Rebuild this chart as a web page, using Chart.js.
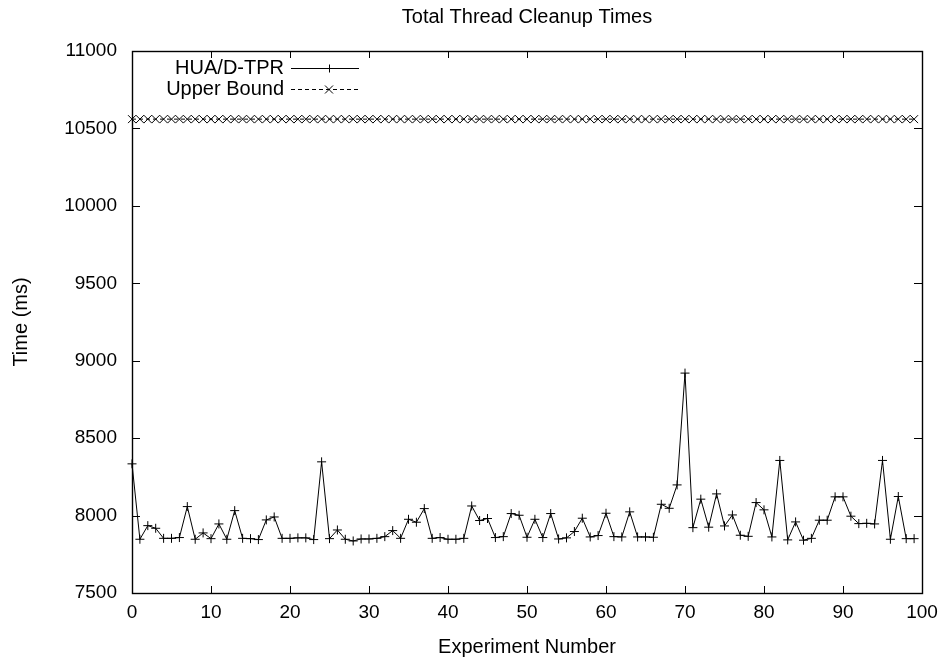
<!DOCTYPE html>
<html>
<head>
<meta charset="utf-8">
<script src="https://cdn.jsdelivr.net/npm/chart.js@4/dist/chart.umd.min.js"></script>
<style>
  html, body { margin: 0; padding: 0; background: #fff; }
  #wrap { width: 948px; height: 664px; }
</style>
</head>
<body>
<div id="wrap"><canvas id="chart" width="948" height="664"></canvas></div>
<script>
// Experiment numbers along the x axis
const experiments = [
  0, 1, 2, 3, 4, 5, 6, 7, 8, 9,
  10, 11, 12, 13, 14, 15, 16, 17, 18, 19,
  20, 21, 22, 23, 24, 25, 26, 27, 28, 29,
  30, 31, 32, 33, 34, 35, 36, 37, 38, 39,
  40, 41, 42, 43, 44, 45, 46, 47, 48, 49,
  50, 51, 52, 53, 54, 55, 56, 57, 58, 59,
  60, 61, 62, 63, 64, 65, 66, 67, 68, 69,
  70, 71, 72, 73, 74, 75, 76, 77, 78, 79,
  80, 81, 82, 83, 84, 85, 86, 87, 88, 89,
  90, 91, 92, 93, 94, 95, 96, 97, 98, 99
];

// Total cleanup time per experiment (ms)
const huaTimes = [
  8334, 7847, 7935, 7918, 7853, 7853, 7858, 8058, 7847, 7888,
  7851, 7946, 7847, 8032, 7853, 7851, 7845, 7972, 7991, 7853,
  7853, 7856, 7856, 7845, 8347, 7851, 7907, 7847, 7836, 7849,
  7849, 7853, 7864, 7903, 7853, 7976, 7957, 8045, 7853, 7858,
  7847, 7847, 7853, 8062, 7968, 7981, 7858, 7864, 8013, 8002,
  7860, 7976, 7858, 8013, 7849, 7856, 7897, 7983, 7862, 7871,
  8015, 7864, 7862, 8024, 7862, 7862, 7860, 8073, 8047, 8198,
  8920, 7922, 8106, 7925, 8140, 7933, 8004, 7873, 7866, 8084,
  8037, 7862, 8356, 7843, 7959, 7841, 7853, 7970, 7970, 8121,
  8121, 7996, 7948, 7950, 7946, 8356, 7847, 8123, 7851, 7851
];

// Analytical upper bound on the cleanup time (ms)
const upperBound = [
  10560, 10560, 10560, 10560, 10560, 10560, 10560, 10560, 10560, 10560,
  10560, 10560, 10560, 10560, 10560, 10560, 10560, 10560, 10560, 10560,
  10560, 10560, 10560, 10560, 10560, 10560, 10560, 10560, 10560, 10560,
  10560, 10560, 10560, 10560, 10560, 10560, 10560, 10560, 10560, 10560,
  10560, 10560, 10560, 10560, 10560, 10560, 10560, 10560, 10560, 10560,
  10560, 10560, 10560, 10560, 10560, 10560, 10560, 10560, 10560, 10560,
  10560, 10560, 10560, 10560, 10560, 10560, 10560, 10560, 10560, 10560,
  10560, 10560, 10560, 10560, 10560, 10560, 10560, 10560, 10560, 10560,
  10560, 10560, 10560, 10560, 10560, 10560, 10560, 10560, 10560, 10560,
  10560, 10560, 10560, 10560, 10560, 10560, 10560, 10560, 10560, 10560
];

const xTicks = [0, 10, 20, 30, 40, 50, 60, 70, 80, 90, 100];
const yTicks = [7500, 8000, 8500, 9000, 9500, 10000, 10500, 11000];
const seriesNames = ['HUA/D-TPR', 'Upper Bound'];
const chartTitle = 'Total Thread Cleanup Times';

const FONT = '"Liberation Sans", Arial, Helvetica, sans-serif';

// Frame with inward tick marks on all four sides
const framePlugin = {
  id: 'frame',
  afterDatasetsDraw(chart) {
    const { ctx, chartArea: a, scales } = chart;
    ctx.save();
    ctx.strokeStyle = '#000';
    ctx.lineWidth = 1;
    ctx.beginPath();
    xTicks.forEach(v => {
      const px = Math.round(scales.x.getPixelForValue(v)) + 0.5;
      ctx.moveTo(px, a.bottom); ctx.lineTo(px, a.bottom - 7);
      ctx.moveTo(px, a.top); ctx.lineTo(px, a.top + 7);
    });
    yTicks.forEach(v => {
      const py = Math.round(scales.y.getPixelForValue(v)) + 0.5;
      ctx.moveTo(a.left, py); ctx.lineTo(a.left + 8, py);
      ctx.moveTo(a.right, py); ctx.lineTo(a.right - 8, py);
    });
    ctx.stroke();
    ctx.lineWidth = 1.4;
    ctx.strokeRect(Math.round(a.left) + 0.5, Math.round(a.top) + 0.5,
                   Math.round(a.right - a.left), Math.round(a.bottom - a.top));
    ctx.restore();
  }
};

// Key in the top-left corner: right-aligned names followed by a line sample
const keyPlugin = {
  id: 'key',
  afterDraw(chart) {
    const ctx = chart.ctx;
    const textRight = 284, lineL = 291, lineR = 359, markX = 329;
    const rows = [68, 89];
    ctx.save();
    ctx.font = '20px ' + FONT;
    ctx.fillStyle = '#000';
    ctx.textAlign = 'right';
    ctx.textBaseline = 'middle';
    ctx.strokeStyle = '#000';
    ctx.lineWidth = 1;
    rows.forEach((y, i) => {
      ctx.fillText(seriesNames[i], textRight, y);
      const yy = Math.round(y) + 0.5;
      ctx.setLineDash(i === 0 ? [] : [4, 3]);
      ctx.beginPath();
      ctx.moveTo(lineL, yy); ctx.lineTo(lineR, yy);
      ctx.stroke();
      ctx.setLineDash([]);
      ctx.beginPath();
      if (i === 0) {
        ctx.moveTo(markX - 4, yy); ctx.lineTo(markX + 4, yy);
        ctx.moveTo(markX + 0.5, yy - 4); ctx.lineTo(markX + 0.5, yy + 4);
      } else {
        ctx.moveTo(markX - 4, yy - 4); ctx.lineTo(markX + 4, yy + 4);
        ctx.moveTo(markX - 4, yy + 4); ctx.lineTo(markX + 4, yy - 4);
      }
      ctx.stroke();
    });
    ctx.restore();
  }
};

// Chart title and vertical axis caption, both centred on the plot
const captionPlugin = {
  id: 'captions',
  afterDraw(chart) {
    const { ctx, chartArea: a } = chart;
    ctx.save();
    ctx.font = '20px ' + FONT;
    ctx.fillStyle = '#000';
    ctx.textAlign = 'center';
    ctx.textBaseline = 'middle';
    ctx.fillText(chartTitle, (a.left + a.right) / 2, 17);
    ctx.translate(21, (a.top + a.bottom) / 2);
    ctx.rotate(-Math.PI / 2);
    ctx.fillText('Time (ms)', 0, 0);
    ctx.restore();
  }
};

new Chart(document.getElementById('chart'), {
  type: 'line',
  data: {
    datasets: [
      {
        label: seriesNames[0],
        data: experiments.map((x, i) => ({ x, y: huaTimes[i] })),
        borderColor: '#000',
        backgroundColor: '#000',
        borderWidth: 1,
        tension: 0,
        pointStyle: 'cross',
        pointRadius: 4.5,
        pointBorderWidth: 1,
        pointBorderColor: '#000',
        clip: false
      },
      {
        label: seriesNames[1],
        data: experiments.map((x, i) => ({ x, y: upperBound[i] })),
        borderColor: '#000',
        backgroundColor: '#000',
        borderWidth: 1,
        borderDash: [4, 3],
        tension: 0,
        pointStyle: 'crossRot',
        pointRadius: 5.6,
        pointBorderWidth: 1,
        pointBorderColor: '#000',
        clip: false
      }
    ]
  },
  options: {
    responsive: false,
    animation: false,
    devicePixelRatio: 1,
    layout: { padding: { left: 0, right: 26, top: 51, bottom: 0 } },
    plugins: {
      legend: { display: false },
      tooltip: { enabled: false },
      title: { display: false }
    },
    scales: {
      x: {
        type: 'linear',
        min: 0,
        max: 100,
        afterBuildTicks(scale) { scale.ticks = xTicks.map(v => ({ value: v })); },
        afterFit(scale) { scale.height = 71; },
        grid: { display: false, drawTicks: false, tickLength: 0 },
        border: { display: false },
        ticks: {
          color: '#000',
          font: { family: FONT, size: 19 },
          padding: 8,
          maxRotation: 0,
          autoSkip: false
        },
        title: {
          display: true,
          text: 'Experiment Number',
          color: '#000',
          font: { family: FONT, size: 20, lineHeight: 1.2 },
          padding: { top: 0, bottom: 5 }
        }
      },
      y: {
        type: 'linear',
        min: 7500,
        max: 11000,
        afterBuildTicks(scale) { scale.ticks = yTicks.map(v => ({ value: v })); },
        afterFit(scale) { scale.width = 132; },
        grid: { display: false, drawTicks: false, tickLength: 0 },
        border: { display: false },
        ticks: {
          color: '#000',
          font: { family: FONT, size: 19 },
          padding: 15,
          autoSkip: false,
          callback: v => String(v)
        }
      }
    }
  },
  plugins: [framePlugin, keyPlugin, captionPlugin]
});
</script>
</body>
</html>
